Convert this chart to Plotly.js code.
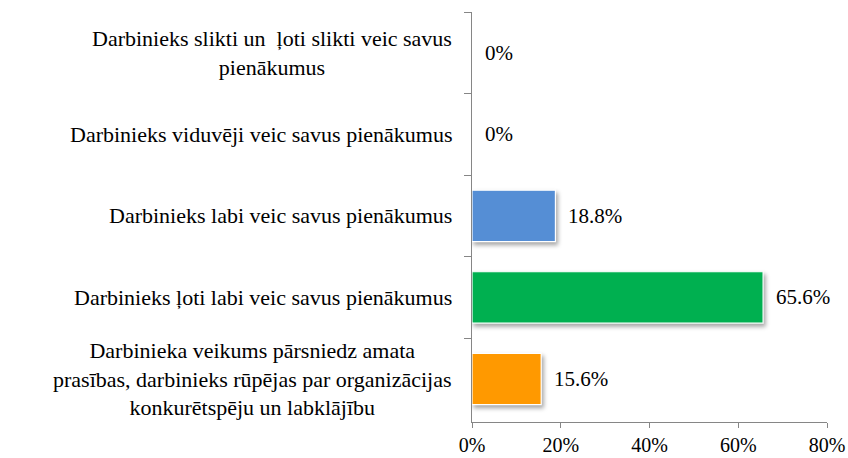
<!DOCTYPE html>
<html>
<head>
<meta charset="utf-8">
<script src="https://cdn.plot.ly/plotly-3.0.1.min.js"></script>
</head>
<body style="margin:0;padding:0;background:#fff">
<div id="chart" style="width:848px;height:458px"></div>
<script>
// Categories, top to bottom
const categories = [
  "Darbinieks slikti un  ļoti slikti veic savus<br>pienākumus",
  "Darbinieks viduvēji veic savus pienākumus",
  "Darbinieks labi veic savus pienākumus",
  "Darbinieks ļoti labi veic savus pienākumus",
  "Darbinieka veikums pārsniedz amata<br>prasības, darbinieks rūpējas par organizācijas<br>konkurētspēju un labklājību"
];
const values = [0, 0, 18.8, 65.6, 15.6];
const valueLabels = ["0%", "0%", "18.8%", "65.6%", "15.6%"];
const barColors = ["#558ED5", "#558ED5", "#558ED5", "#00B050", "#FF9900"];
const xTickVals = [0, 20, 40, 60, 80];
const xTickText = ["0%", "20%", "40%", "60%", "80%"];

const font = "Times New Roman";
const textColor = "#000000";

const trace = {
  type: "bar",
  orientation: "h",
  y: categories,
  x: values,
  marker: {color: barColors, line: {color: "#ffffff", width: values.map(v => v > 0 ? 1.2 : 0)}},
  hoverinfo: "none"
};

const annotations = [];
categories.forEach((c, i) => {
  annotations.push({
    x: values[i], y: c, xref: "x", yref: "y",
    text: valueLabels[i], showarrow: false,
    xanchor: "left", xshift: 11,
    font: {family: font, size: 21, color: textColor}
  });
  annotations.push({
    x: 0, y: c, xref: "x", yref: "y",
    text: c, showarrow: false,
    xanchor: "right", xshift: -18, align: "center",
    font: {family: font, size: 22, color: textColor}
  });
});

const layout = {
  width: 848, height: 458,
  font: {family: font, color: textColor},
  margin: {l: 472, r: 21, t: 12, b: 36},
  paper_bgcolor: "#fff", plot_bgcolor: "#fff",
  bargap: 0.37,
  showlegend: false,
  xaxis: {
    range: [0, 80], tickvals: xTickVals, ticktext: xTickText,
    showgrid: false, zeroline: false,
    showline: true, linecolor: "#868686", linewidth: 1,
    ticks: "outside", ticklen: 5, tickcolor: "#868686",
    tickfont: {family: font, size: 20, color: textColor},
    fixedrange: true
  },
  yaxis: {
    autorange: "reversed",
    showticklabels: false,
    showgrid: false, zeroline: false,
    showline: true, linecolor: "#868686", linewidth: 1,
    ticks: "outside", ticklen: 7, tickcolor: "#868686",
    tickson: "boundaries",
    fixedrange: true
  },
  annotations: annotations
};

Plotly.newPlot("chart", [trace], layout, {displayModeBar: false}).then(() => {
  document.querySelectorAll("#chart .barlayer .point path").forEach(p => {
    p.style.filter = "drop-shadow(2px 3px 2px rgba(0,0,0,0.35))";
  });
});
</script>
</body>
</html>
